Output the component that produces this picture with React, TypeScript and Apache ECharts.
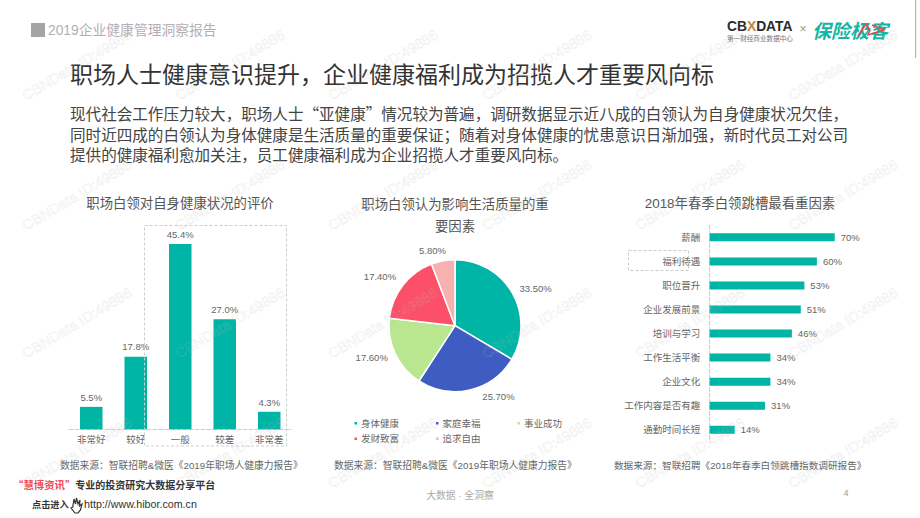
import React, { useEffect, useRef } from "react";
import * as echarts from "echarts";

const ratingCats = ["非常好", "较好", "一般", "较差", "非常差"];
const ratingVals = [5.5, 17.8, 45.4, 27.0, 4.3];
const pieNames = ["身体健康", "家庭幸福", "事业成功", "发财致富", "追求自由"];
const pieVals = [33.5, 25.7, 17.6, 17.4, 5.8];
const pieColors = ["#00b4a6", "#3f5cc2", "#b9e78f", "#fb5068", "#f7b1b1"];
const jobCats = ["薪酬", "福利待遇", "职位晋升", "企业发展前景", "培训与学习", "工作生活平衡", "企业文化", "工作内容是否有趣", "通勤时间长短"];
const jobVals = [70, 60, 53, 51, 46, 34, 34, 31, 14];
const bodyLines = [
  "现代社会工作压力较大，职场人士“亚健康”情况较为普遍，调研数据显示近八成的白领认为自身健康状况欠佳，",
  "同时近四成的白领认为身体健康是生活质量的重要保证；随着对身体健康的忧患意识日渐加强，新时代员工对公司",
  "提供的健康福利愈加关注，员工健康福利成为企业招揽人才重要风向标。",
];
const headerText = "2019企业健康管理洞察报告";
const titleText = "职场人士健康意识提升，企业健康福利成为招揽人才重要风向标";
const chartTitle1 = "职场白领对自身健康状况的评价";
const chartTitle2 = ["职场白领认为影响生活质量的重", "要因素"];
const chartTitle3 = "2018年春季白领跳槽最看重因素";
const source1 = "数据来源：智联招聘&微医《2019年职场人健康力报告》";
const source3 = "数据来源：智联招聘《2018年春季白领跳槽指数调研报告》";
const watermark = "CBNData ID:49886";
const wmXs = [77, 230, 383, 537, 690, 843];
const wmYs = [65, 195, 323, 453];

const TEAL = "#00b4a6";
const LATIN = "'Liberation Sans','Noto Sans CJK SC',sans-serif";
const CJK = "'Noto Sans CJK SC','Liberation Sans',sans-serif";

echarts.graphic.registerShape(
  "hand",
  echarts.graphic.extendPath("M3 7 L4 1 L5.5 6 L6.5 0 L8 6 L10 2 L9.5 8 L12 6 L10.5 12 L8 15 L5 15 L1 10 L3 9 Z", {})
);

const txt = (text: string, x: number, y: number, size: number, fill: string, extra: any = {}, styleExtra: any = {}) => ({
  type: "text",
  x,
  y,
  silent: true,
  ...extra,
  style: { text, fontSize: size, fill, fontFamily: LATIN, verticalAlign: "middle", align: "left", ...styleExtra },
});

export default function App() {
  const ref = useRef<HTMLDivElement>(null);
  useEffect(() => {
    document.body.style.margin = "0";
    const chart = echarts.init(ref.current!, undefined, { renderer: "svg" });
    const graphics: any[] = [];
    graphics.push({ type: "rect", shape: { x: 31, y: 23, width: 14, height: 14 }, style: { fill: "#a4a4a4" }, silent: true });
    graphics.push(txt(headerText, 48, 30, 13.8, "#b4aeb4"));
    graphics.push({ type: "rect", shape: { x: 915, y: 0, width: 1.2, height: 58 }, style: { fill: "#b5b5b5" }, silent: true });
    graphics.push(
      txt("{a|CB}{b|X}{a|DATA}", 727, 26, 13.8, "#2b2b2b", {}, {
        fontWeight: "bold",
        rich: {
          a: { fontSize: 13.8, fontWeight: "bold", fill: "#2b2b2b", fontFamily: LATIN },
          b: { fontSize: 13.8, fontWeight: "bold", fill: "#c8823c", fontFamily: LATIN },
        },
      })
    );
    graphics.push(txt("第一财经商业数据中心", 727, 38, 6.6, "#777", {}, { fontFamily: CJK }));
    graphics.push(txt("×", 803, 29, 12, "#999", {}, { align: "center" }));
    graphics.push(txt("保险极客", 812, 29, 19, "#16b5a3", {}, { fontFamily: CJK, fontWeight: "bold", fontStyle: "italic" }));
    graphics.push({
      type: "polyline",
      silent: true,
      shape: { points: [[858, 36], [866, 24], [870, 30], [868, 35], [884, 30], [872, 25]] },
      style: { stroke: "#ef4048", lineWidth: 1.4, fill: "none" },
    });
    graphics.push(txt(titleText, 70, 73, 23, "#333", {}, { fontFamily: CJK }));
    bodyLines.forEach((line, i) => {
      graphics.push(txt(line, 70, 113.3 + i * 20.3, 15.57, "#444", {}, { fontFamily: CJK, lineHeight: 19 }));
    });
    graphics.push(txt(chartTitle1, 180, 203, 13.4, "#555", {}, { align: "center" }));
    chartTitle2.forEach((line, i) => {
      graphics.push(txt(line, 455, 204 + i * 22.7, 13.4, "#555", {}, { align: "center" }));
    });
    graphics.push(txt(chartTitle3, 740, 203, 13.4, "#555", {}, { align: "center" }));
    graphics.push(txt(source1, 60, 465.7, 9.75, "#666"));
    graphics.push(txt(source1, 334, 465.7, 9.75, "#666"));
    graphics.push(txt(source3, 614, 465.7, 9.65, "#666"));
    graphics.push(
      txt("{r|“慧博资讯”}{k|专业的投资研究大数据分享平台}", 13, 484, 10.4, "#333", {}, {
        rich: {
          r: { fontSize: 10.4, fill: "#f04a58", fontFamily: CJK, fontWeight: "bold" },
          k: { fontSize: 10, fill: "#333", fontFamily: CJK, fontWeight: "bold" },
        },
      })
    );
    graphics.push(txt("点击进入", 32, 504, 9.2, "#333", {}, { fontFamily: CJK, fontWeight: "bold" }));
    graphics.push({ type: "hand", x: 70, y: 498, silent: true, style: { fill: "#fff", stroke: "#333", lineWidth: 1.2 } });
    graphics.push(txt("http://www.hibor.com.cn", 84, 504, 10.7, "#333"));
    graphics.push(txt("大数据 · 全洞察", 460, 495, 9.8, "#aaa", {}, { align: "center" }));
    graphics.push(txt("4", 846, 493, 9, "#999", {}, { align: "center" }));
    // dashed highlight boxes
    const dash = { stroke: "#c9cfc9", lineWidth: 1, lineDash: [3, 2], fill: "none" };
    graphics.push({ type: "rect", silent: true, z: 20, shape: { x: 144.5, y: 225.5, width: 142, height: 220.5 }, style: dash });
    graphics.push({ type: "rect", silent: true, z: 20, shape: { x: 628.5, y: 250.5, width: 60, height: 20 }, style: dash });
    // watermark grid
    wmYs.forEach((y) =>
      wmXs.forEach((x) =>
        graphics.push(
          txt(watermark, x, y, 14.5, "rgba(255,255,255,0)", { rotation: 0.534, z: 100 }, {
            align: "center",
            stroke: "rgba(190,190,190,0.3)",
            lineWidth: 0.5,
          })
        )
      )
    );

    const pieLabelNudges = [
      { dx: -9, dy: -2 },
      { dx: 0, dy: 1 },
      { dx: 9, dy: 1 },
      { dx: 9, dy: -5 },
      { dx: 15, dy: -4 },
    ];

    chart.setOption({
      animation: false,
      backgroundColor: "#fff",
      textStyle: { fontFamily: LATIN },
      grid: [
        { left: 69, top: 225.3, width: 222.5, height: 204 },
        { left: 709.7, top: 225.3, width: 142.9, height: 216.5 },
      ],
      xAxis: [
        {
          type: "category",
          gridIndex: 0,
          data: ratingCats,
          axisTick: { show: false },
          axisLine: { lineStyle: { color: "#ccc", type: "dashed" } },
          axisLabel: { fontSize: 9.5, color: "#666", margin: 5, interval: 0 },
        },
        { type: "value", gridIndex: 1, min: 0, max: 80, show: false },
      ],
      yAxis: [
        { type: "value", gridIndex: 0, min: 0, max: 50, show: false },
        {
          type: "category",
          gridIndex: 1,
          inverse: true,
          data: jobCats,
          axisTick: { show: false },
          axisLine: { lineStyle: { color: "#ccc", type: "dashed" } },
          axisLabel: { fontSize: 9.5, color: "#666", margin: 9.5, interval: 0 },
        },
      ],
      legend: [
        {
          data: pieNames.slice(0, 3),
          left: 352.5,
          top: 418.5,
          padding: 0,
          icon: "rect",
          itemWidth: 4.5,
          itemHeight: 4.5,
          itemGap: 35,
          selectedMode: false,
          textStyle: { fontSize: 9.5, color: "#666", padding: [0, 0, 0, -2] },
        },
        {
          data: pieNames.slice(3),
          left: 352.5,
          top: 434,
          padding: 0,
          icon: "rect",
          itemWidth: 4.5,
          itemHeight: 4.5,
          itemGap: 35,
          selectedMode: false,
          textStyle: { fontSize: 9.5, color: "#666", padding: [0, 0, 0, -2] },
        },
      ],
      series: [
        {
          type: "bar",
          xAxisIndex: 0,
          yAxisIndex: 0,
          data: ratingVals,
          barWidth: 22.5,
          itemStyle: { color: TEAL },
          label: {
            show: true,
            position: "top",
            distance: 5,
            fontSize: 9.5,
            color: "#666",
            formatter: (p: any) => p.value.toFixed(1) + "%",
          },
        },
        {
          type: "bar",
          xAxisIndex: 1,
          yAxisIndex: 1,
          data: jobVals,
          barWidth: 8,
          itemStyle: { color: TEAL },
          label: {
            show: true,
            position: "right",
            distance: 6,
            fontSize: 9.5,
            color: "#666",
            formatter: (p: any) => p.value + "%",
          },
        },
        {
          type: "pie",
          center: [455, 325.7],
          radius: 66,
          startAngle: 90,
          clockwise: true,
          avoidLabelOverlap: false,
          data: pieNames.map((name, i) => ({ name, value: pieVals[i], itemStyle: { color: pieColors[i] } })),
          itemStyle: { borderColor: "#fff", borderWidth: 1.5 },
          label: {
            show: true,
            position: "outside",
            fontSize: 9.5,
            color: "#666",
            formatter: (p: any) => p.value.toFixed(2) + "%",
          },
          labelLine: { show: false, length: 6, length2: 6 },
          labelLayout: (p: any) => pieLabelNudges[p.dataIndex],
        },
      ],
      graphic: graphics,
    });
    return () => chart.dispose();
  }, []);
  return <div ref={ref} style={{ width: 920, height: 518 }} />;
}
